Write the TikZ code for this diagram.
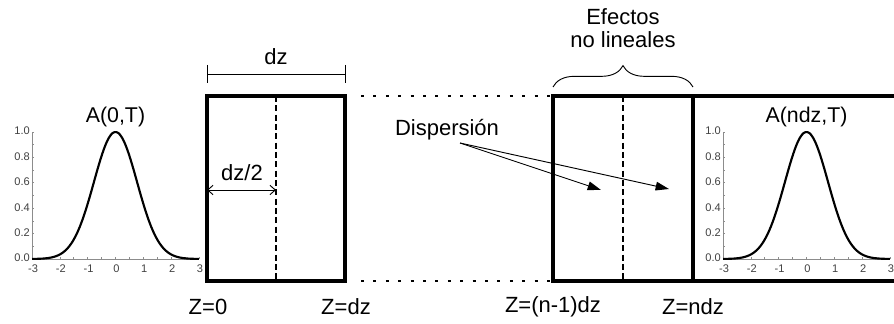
\documentclass[tikz,border=0pt]{standalone}
\usepackage{fontspec}
\setmainfont{Liberation Sans}
\usetikzlibrary{arrows.meta, decorations.pathreplacing}

\begin{document}
\begin{tikzpicture}[x=0.75pt, y=-0.75pt,
  box/.style={line width=2.3pt},
  midline/.style={line width=2.2pt, dash pattern=on 4.6pt off 2.4pt},
  dots/.style={line width=2.2pt, dash pattern=on 2.2pt off 7.1pt},
  thinln/.style={line width=0.7pt},
  lbl/.style={font=\fontsize{16.5}{18}\selectfont, inner sep=0pt},
  ticklbl/.style={font=\fontsize{8.3}{9}\selectfont, text=black!75, inner sep=0pt},
  axis/.style={black!45, line width=0.5pt},
  pulse/.style={line width=1.6pt, line join=round}]
  \useasboundingbox (0,0) rectangle (894,324);

  % pulses at input and output
  \foreach \ox/\nm/\ttl in {32/ini/{A(0,T)}, 723/fin/{A(ndz,T)}}{
    \begin{scope}[shift={(\ox,259)}]
      \draw[axis] (0,0) -- (167,0);
      \draw[axis] (0,0) -- (0,-127);
      \foreach \k in {0,...,12}
        \draw[axis] (13.92*\k,0) -- ++(0,-2);
      \foreach \k in {0,...,10}
        \draw[axis] (0,-12.7*\k) -- ++(2,0);
      \foreach \t [count=\i from 0] in {-3,-2,-1,0,1,2,3}
        \node[ticklbl, anchor=north] (x\nm\i) at (27.83*\i+1,6) {\t};
      \foreach \v in {0.0,0.2,0.4,0.6,0.8,1.0}
        \node[ticklbl, anchor=east] at (-2,-127*\v-1) {\v};
      \draw[pulse] plot[domain=-3:3, samples=90, smooth]
        ({83.5+27.83*\x},{-127*exp(-1*(\x)*(\x)/1.2)});
      \node[lbl, font=\fontsize{16}{18}\selectfont] (tit\nm) at (83.5,-142) {\ttl};
    \end{scope}}

  % first section
  \coordinate (a1) at (207,96);
  \coordinate (a2) at (345,281);
  \draw[box] (a1) rectangle (a2);
  \draw[midline] (276,96) -- (276,281);
  \draw[thinln, {Straight Barb[length=4pt, width=7pt]}-{Straight Barb[length=4pt, width=7pt]}]
    (207,190) -- (276,190);
  \node[lbl] (half) at (242,173) {dz/2};

  % length of one step
  \draw[thinln] (207,74) -- (345,74);
  \draw[thinln] (207,65) -- (207,83);
  \draw[thinln] (345,65) -- (345,83);
  \node[lbl] (dz) at (276,57) {dz};

  % sections not drawn
  \draw[dots] (361,96) -- (551,96);
  \draw[dots] (361,281) -- (551,281);

  % last section
  \draw[box] (894,96) -- (553,96) -- (553,281) -- (894,281);
  \draw[box] (693,96) -- (693,281);
  \draw[midline] (623,96) -- (623,281);
  \draw[thinln, decorate, decoration={brace, amplitude=16pt}]
    (553,87) -- (693,87);
  \node[lbl, align=center] (nl) at (623,28) {Efectos\\[-1pt]no lineales};

  % dispersion
  \node[lbl] (disp) at (447,130) {Dispersión};
  \coordinate (dsrc) at (460,143);
  \coordinate (p1) at (601,190);
  \coordinate (p2) at (669,189);
  \draw[thinln, -{Triangle[length=10pt, width=6.5pt]}] (dsrc) -- (p1);
  \draw[thinln, -{Triangle[length=10pt, width=6.5pt]}] (dsrc) -- (p2);

  % positions along the fibre
  \node[lbl] (z0) at (208,307) {Z=0};
  \node[lbl] (z1) at (346,307) {Z=dz};
  \node[lbl] (zn1) at (553,307) {Z=(n-1)dz};
  \node[lbl] (zn) at (693,307) {Z=ndz};
\end{tikzpicture}
\end{document}
